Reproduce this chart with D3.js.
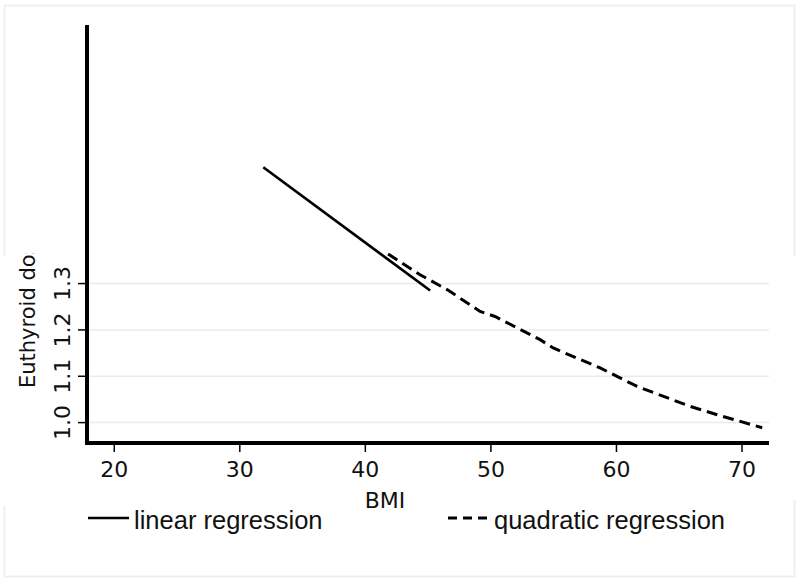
<!DOCTYPE html>
<meta charset="utf-8">
<style>
body { margin: 0; background: #fff; }
.tick-label { font-family: "DejaVu Sans", sans-serif; font-size: 22px; fill: #111; }
.legend-label { font-family: "Liberation Sans", Arial, sans-serif; font-size: 25.5px; fill: #111; }
</style>
<body>
<script src="https://cdn.jsdelivr.net/npm/d3@7"></script>
<div id="content"></div>
<script>
var width = 800,
    height = 582;

// BMI vs euthyroid dose
var linearBMI = [31.87, 45.16];
var linearDose = [1.551, 1.285];

var quadBMI = [41.81, 44.36, 46.51, 49.14, 50.33, 53.92, 54.96, 58.70, 61.65, 65.87, 68.02, 71.61];
var quadDose = [1.364, 1.319, 1.287, 1.240, 1.229, 1.179, 1.161, 1.118, 1.078, 1.035, 1.017, 0.989];

var xTicks = [20, 30, 40, 50, 60, 70];
var yTicks = [1.0, 1.1, 1.2, 1.3];
var legendLabels = ["linear regression", "quadratic regression"];

var x = d3.scaleLinear().domain([17.83, 72.15]).range([87, 769]);
var y = d3.scaleLinear().domain([0.956, 1.858]).range([443, 25]);

var svg = d3.select("#content").append("svg")
    .attr("width", width)
    .attr("height", height);

// faint graph-region borders
svg.append("path")
    .attr("d", "M4.5,256V5.5H794.5V256")
    .style("fill", "none")
    .style("stroke", "#eaf1f2")
    .style("stroke-width", 2);
svg.append("path")
    .attr("d", "M4.5,506V576.5H794.5V500")
    .style("fill", "none")
    .style("stroke", "#eaf1f2")
    .style("stroke-width", 2);

svg.selectAll(".grid")
    .data(yTicks)
    .enter()
    .append("line")
    .attr("class", "grid")
    .attr("x1", x.range()[0])
    .attr("x2", x.range()[1])
    .attr("y1", function(d){return y(d);})
    .attr("y2", function(d){return y(d);})
    .style("stroke", "#e4eef0")
    .style("stroke-width", 1.5);

// axes
svg.append("line")
    .attr("x1", 87).attr("x2", 87)
    .attr("y1", y.range()[1]).attr("y2", y.range()[0] + 2)
    .style("stroke", "#000").style("stroke-width", 4);
svg.append("line")
    .attr("x1", 85).attr("x2", x.range()[1])
    .attr("y1", 443).attr("y2", 443)
    .style("stroke", "#000").style("stroke-width", 4);

svg.selectAll(".xtick")
    .data(xTicks)
    .enter()
    .append("line")
    .attr("class", "xtick")
    .attr("x1", function(d){return x(d);})
    .attr("x2", function(d){return x(d);})
    .attr("y1", 443).attr("y2", 452)
    .style("stroke", "#000").style("stroke-width", 1.5);
svg.selectAll(".xlabel")
    .data(xTicks)
    .enter()
    .append("text")
    .attr("class", "tick-label")
    .attr("x", function(d){return x(d);})
    .attr("y", 477)
    .attr("text-anchor", "middle")
    .text(function(d){return d;});

svg.selectAll(".ytick")
    .data(yTicks)
    .enter()
    .append("line")
    .attr("class", "ytick")
    .attr("x1", 78).attr("x2", 87)
    .attr("y1", function(d){return y(d);})
    .attr("y2", function(d){return y(d);})
    .style("stroke", "#000").style("stroke-width", 1.5);
svg.selectAll(".ylabel")
    .data(yTicks)
    .enter()
    .append("text")
    .attr("class", "tick-label")
    .attr("text-anchor", "middle")
    .attr("transform", function(d){return "translate(70," + y(d) + ") rotate(-90)";})
    .text(function(d){return d.toFixed(1);});

svg.append("text")
    .attr("class", "tick-label")
    .attr("x", 385)
    .attr("y", 508)
    .attr("text-anchor", "middle")
    .text("BMI");

// y title is cut off in the original
svg.append("clipPath").attr("id", "ytitle-clip")
    .append("rect").attr("x", 0).attr("y", 253).attr("width", 60).attr("height", 200);
svg.append("g")
    .attr("clip-path", "url(#ytitle-clip)")
  .append("text")
    .attr("class", "tick-label")
    .style("font-size", "21px")
    .attr("transform", "translate(35,388) rotate(-90)")
    .text("Euthyroid dose");

var line = d3.line()
    .x(function(d){return x(d[0]);})
    .y(function(d){return y(d[1]);});

svg.append("path")
    .datum(d3.zip(linearBMI, linearDose))
    .attr("d", line)
    .style("fill", "none")
    .style("stroke", "#000")
    .style("stroke-width", 2.7);

svg.append("path")
    .datum(d3.zip(quadBMI, quadDose))
    .attr("d", line)
    .style("fill", "none")
    .style("stroke", "#000")
    .style("stroke-width", 3)
    .style("stroke-dasharray", "11,6");

// legend
var legendX = [[88, 129, 134], [448, 487, 494]];
var legend = svg.selectAll(".legend")
    .data(legendLabels)
    .enter()
    .append("g")
    .attr("class", "legend");
legend.append("line")
    .attr("x1", function(d, i){return legendX[i][0];})
    .attr("x2", function(d, i){return legendX[i][1];})
    .attr("y1", 518).attr("y2", 518)
    .style("stroke", "#000")
    .style("stroke-width", function(d, i){return i ? 3 : 2.5;})
    .style("stroke-dasharray", function(d, i){return i ? "9,6" : null;});
legend.append("text")
    .attr("class", "legend-label")
    .attr("x", function(d, i){return legendX[i][2];})
    .attr("y", 529)
    .text(function(d){return d;});
</script>
